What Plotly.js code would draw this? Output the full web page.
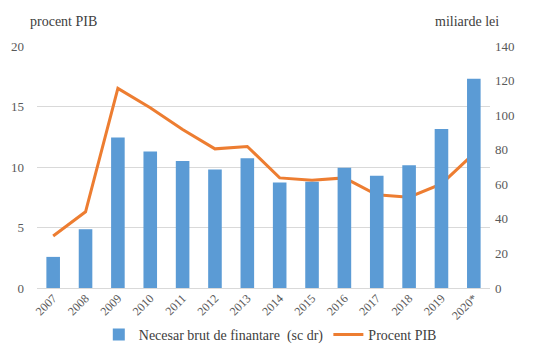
<!DOCTYPE html>
<html><head><meta charset="utf-8">
<script src="https://cdn.plot.ly/plotly-3.0.1.min.js"></script>
<style>html,body{margin:0;padding:0;background:#fff}#c{width:548px;height:351px}</style>
</head><body><div id="c"></div>
<script>
const years = ["2007","2008","2009","2010","2011","2012","2013","2014","2015","2016","2017","2018","2019","2020*"];
const necesarBrut = [18, 34, 87, 79, 73.5, 68.5, 75, 61, 61.5, 69.5, 65, 71, 92, 121];
const procentPIB = [4.3, 6.3, 16.5, 14.9, 13.1, 11.5, 11.7, 9.1, 8.9, 9.1, 7.7, 7.5, 8.6, 11.1];
const barName = "Necesar brut de finantare  (sc dr)";
const lineName = "Procent PIB";

const fam = "Liberation Serif";
const font = {family: fam, size: 12, color: "#595959"};
const traces = [
  {type: "bar", x: years, y: necesarBrut, name: barName, yaxis: "y2",
   marker: {color: "#5b9bd5"}},
  {type: "scatter", mode: "lines", x: years, y: procentPIB, name: lineName, yaxis: "y",
   line: {color: "#ed7d31", width: 3}}
];
const layout = {
  width: 548, height: 351,
  margin: {l: 37, r: 58, t: 46, b: 63},
  paper_bgcolor: "#fff", plot_bgcolor: "#fff",
  font: font,
  showlegend: true,
  legend: {orientation: "h", x: 0.515, xanchor: "center", yref: "container", y: 0.0, yanchor: "bottom",
           font: {family: fam, size: 14, color: "#404040"}, traceorder: "normal", itemwidth: 30},
  bargap: 0.58,
  xaxis: {type: "category", tickangle: -45, showgrid: false, showline: false, ticks: "", automargin: false,
          tickfont: {family: fam, size: 12, color: "#595959"}},
  yaxis: {range: [0, 20], dtick: 5, showgrid: true, gridcolor: "#d9d9d9", gridwidth: 1, automargin: false,
          zeroline: true, zerolinecolor: "#d9d9d9", ticks: "", showline: false, ticklabelstandoff: 12,
          tickfont: {family: fam, size: 13, color: "#595959"}},
  yaxis2: {range: [0, 140], dtick: 20, overlaying: "y", side: "right", showgrid: false, automargin: false,
           zeroline: false, ticks: "", showline: false, ticklabelstandoff: 4,
           tickfont: {family: fam, size: 13, color: "#595959"}},
  annotations: [
    {text: "procent PIB", xref: "paper", yref: "paper", x: -0.02, y: 1.06, xanchor: "left", yanchor: "bottom",
     showarrow: false, font: {family: fam, size: 14, color: "#404040"}},
    {text: "miliarde lei", xref: "paper", yref: "paper", x: 1.025, y: 1.06, xanchor: "right", yanchor: "bottom",
     showarrow: false, font: {family: fam, size: 14, color: "#404040"}}
  ]
};
Plotly.newPlot("c", traces, layout, {displayModeBar: false, staticPlot: true});
</script></body></html>
